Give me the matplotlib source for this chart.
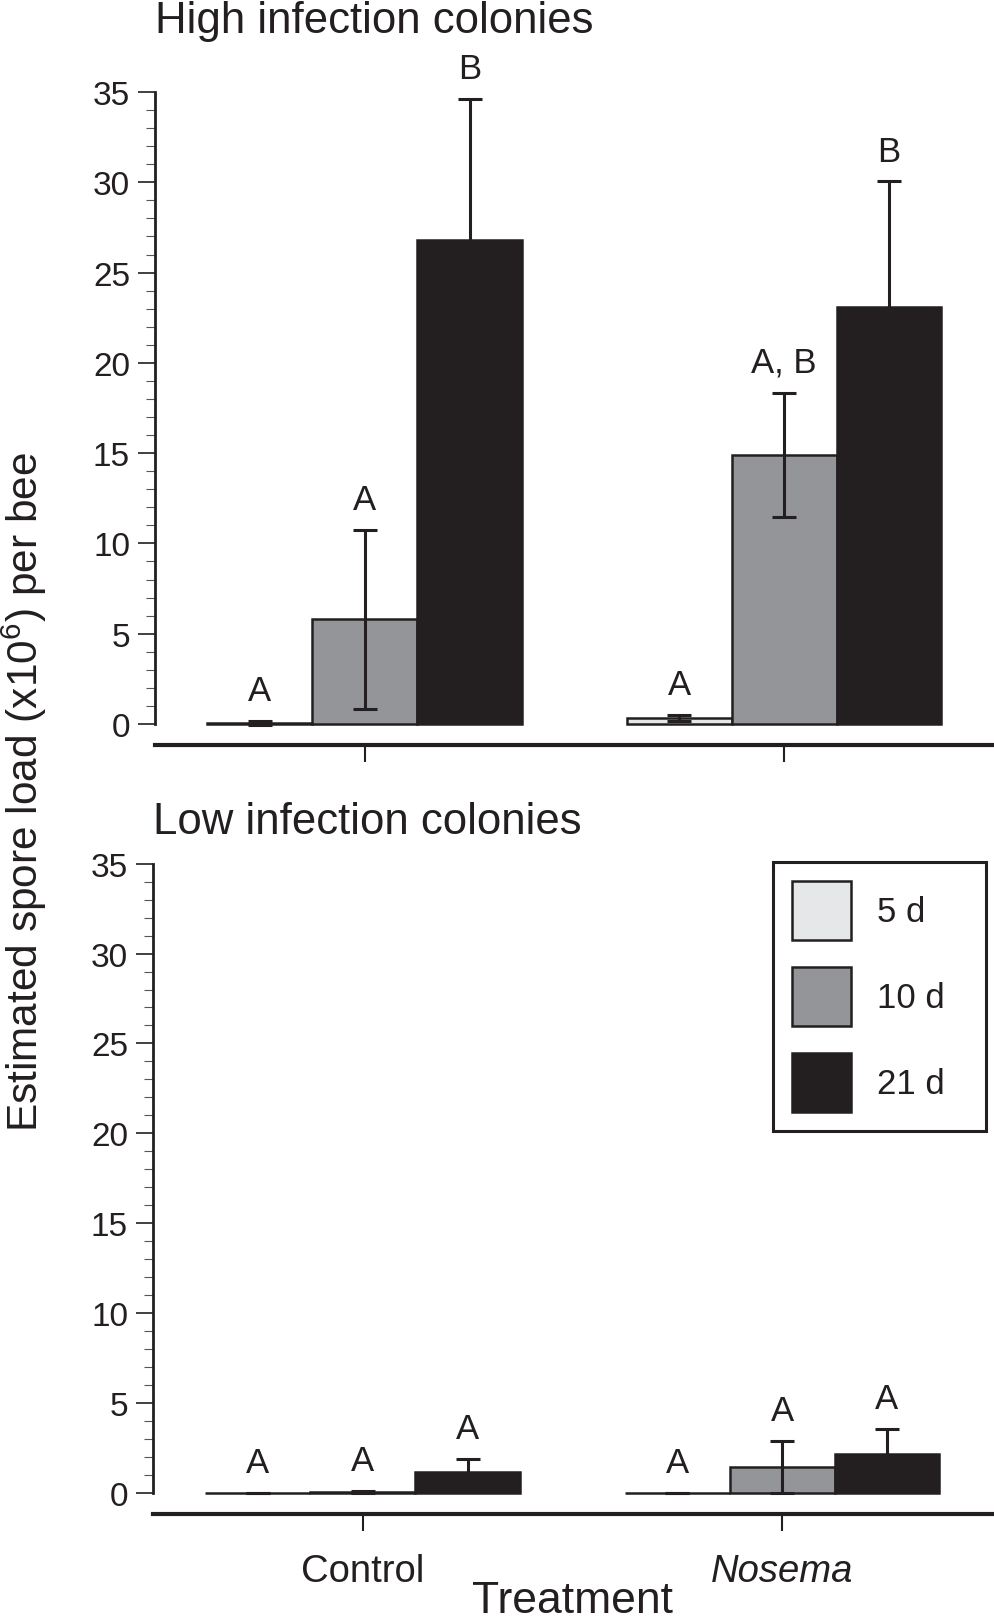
"""Nosema spore load per bee, high vs low infection colonies"""

import numpy as np
import matplotlib
matplotlib.use("Agg")
import matplotlib.pyplot as plt
from matplotlib.ticker import MultipleLocator

plt.rcParams['font.family'] = ['Liberation Sans', 'DejaVu Sans']
plt.rcParams['mathtext.fontset'] = 'custom'
plt.rcParams['mathtext.rm'] = 'Liberation Sans'
plt.rcParams['mathtext.default'] = 'regular'
plt.rcParams['text.color'] = '#231f20'

# Data (rows: Control, Nosema; columns: 5 d, 10 d, 21 d)
treatments = ['Control', 'Nosema']
days = ['5 d', '10 d', '21 d']

high_mean = np.array([[0.05, 5.8, 26.8],
                      [0.33, 14.9, 23.1]])
high_se = np.array([[0.12, 4.95, 7.8],
                    [0.17, 3.45, 6.95]])
high_letters = [['A', 'A', 'B'],
                ['A', 'A, B', 'B']]

low_mean = np.array([[0.02, 0.08, 1.15],
                     [0.02, 1.45, 2.15]])
low_se = np.array([[0.0, 0.05, 0.75],
                   [0.0, 1.43, 1.42]])
low_letters = [['A', 'A', 'A'],
               ['A', 'A', 'A']]

colors = ['#e6e7e8', '#939598', '#231f20']
dark = '#231f20'

x = np.arange(len(treatments))
width = 0.25
offsets = [-width, 0, width]

fig = plt.figure(figsize=(9.95, 16.24), dpi=100)
ax_hi = fig.add_axes([0.1558, 0.5536, 0.843, 0.3891])
ax_lo = fig.add_axes([0.1538, 0.0800, 0.843, 0.3876])


def draw_panel(ax, means, ses, letters, title, pad):
    bars = []
    for j, day in enumerate(days):
        b = ax.bar(x + offsets[j], means[:, j], width, yerr=ses[:, j],
                   color=colors[j], edgecolor=dark, linewidth=1.8,
                   label=day, clip_on=False,
                   error_kw=dict(ecolor=dark, elinewidth=2.2, capsize=8.3,
                                 capthick=2.2, clip_on=False))
        bars.append(b)
        for i in range(len(treatments)):
            ax.annotate(letters[i][j], xy=(x[i] + offsets[j], means[i, j] + ses[i, j]),
                        xytext=(0, 10), textcoords='offset points',
                        ha='center', va='bottom', fontsize=25,
                        annotation_clip=False)

    ax.set_xlim(-0.5, 1.5)
    ax.set_ylim(0, 35)
    ax.spines['top'].set_visible(False)
    ax.spines['right'].set_visible(False)
    ax.spines['left'].set_bounds(0, 35)
    ax.spines['left'].set_linewidth(2)
    ax.spines['left'].set_color(dark)
    ax.spines['bottom'].set_position(('outward', 15))
    ax.spines['bottom'].set_linewidth(3)
    ax.spines['bottom'].set_color(dark)

    ax.set_yticks(range(0, 36, 5))
    ax.yaxis.set_minor_locator(MultipleLocator(1))
    ax.tick_params(axis='y', which='major', length=12, width=1.2, pad=6,
                   labelsize=24, color=dark, labelcolor=dark)
    ax.tick_params(axis='y', which='minor', length=6.5, width=0.8, color='#555555')
    ax.set_xticks(x)
    ax.tick_params(axis='x', length=12, width=1.5, color=dark, pad=16,
                   labelsize=27.5, labelcolor=dark)

    ax.set_title(title, loc='left', fontsize=31.5, pad=pad, color=dark)
    return bars


draw_panel(ax_hi, high_mean, high_se, high_letters, 'High infection colonies', 43)
ax_hi.set_xticklabels([])

bars = draw_panel(ax_lo, low_mean, low_se, low_letters, 'Low infection colonies', 22)
ax_lo.set_xticklabels(treatments)
ax_lo.get_xticklabels()[1].set_style('italic')
ax_lo.set_xlabel('Treatment', fontsize=32, labelpad=-6, color=dark)

leg = ax_lo.legend(loc='upper left', bbox_to_anchor=(0.739, 0.0, 0.254, 1.003),
                   mode='expand', fontsize=25, handlelength=1.7, handleheight=2.24,
                   labelspacing=0.78, handletextpad=0.75, borderpad=0.55,
                   borderaxespad=0, frameon=True, fancybox=False,
                   framealpha=1, edgecolor=dark)
leg.get_frame().set_linewidth(2.2)

fig.text(0.0245, 0.5123, 'Estimated spore load (x10$^6$) per bee',
         rotation=90, ha='center', va='center', fontsize=30.5, color=dark)

fig.savefig('out.png', dpi=100)
